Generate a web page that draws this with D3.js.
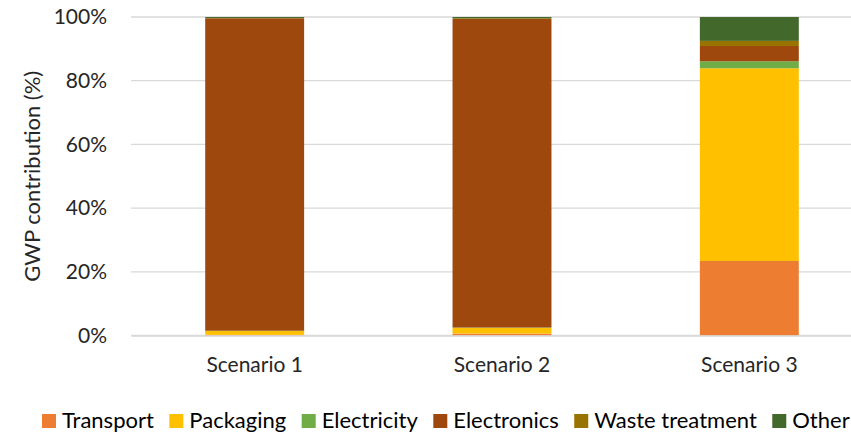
<!DOCTYPE html>
<html>
<head>
<meta charset="utf-8">
<script src="https://cdn.jsdelivr.net/npm/d3@7"></script>
<style>
  html, body { margin: 0; padding: 0; background: #fff; }
  svg { display: block; font-family: Lato, "Open Sans", sans-serif; }
</style>
</head>
<body>
<svg id="chart" width="851" height="433"></svg>
<script>
// Scenario names along the x axis
const scenarios = ["Scenario 1", "Scenario 2", "Scenario 3"];

// Contribution categories, stacked bottom to top
const categories = ["Transport", "Packaging", "Electricity", "Electronics", "Waste treatment", "Other"];
const colors = ["#ED7D31", "#FFC000", "#70AD47", "#9E480E", "#997300", "#43682B"];

// Share of GWP (%) per category, one value per scenario
const transport      = [0.2, 0.6, 23.4];
const packaging      = [1.2, 1.8, 60.5];
const electricity    = [0.1, 0.1, 2.2];
const electronics    = [98.1, 96.9, 4.8];
const wasteTreatment = [0.1, 0.2, 1.6];
const other          = [0.3, 0.4, 7.5];

const yTicks = [0, 20, 40, 60, 80, 100];

const seriesValues = [transport, packaging, electricity, electronics, wasteTreatment, other];
const rows = scenarios.map((s, i) => {
  const r = { scenario: s };
  categories.forEach((c, k) => { r[c] = seriesValues[k][i]; });
  return r;
});

const svg = d3.select("#chart");
const margin = { left: 131, right: 873, top: 17, bottom: 335.5 };
const textColor = "#262626";

const x = d3.scaleBand().domain(scenarios).range([margin.left, margin.right]).paddingInner(0.6).paddingOuter(0.3);
const y = d3.scaleLinear().domain([0, 100]).range([margin.bottom, margin.top]);

// Horizontal gridlines
svg.append("g")
  .selectAll("line")
  .data(yTicks)
  .join("line")
  .attr("x1", margin.left).attr("x2", margin.right)
  .attr("y1", d => y(d)).attr("y2", d => y(d))
  .attr("stroke", "#d9d9d9").attr("stroke-width", 1.3);

// Stacked bars
const stack = d3.stack().keys(categories)(rows);
svg.append("g")
  .selectAll("g")
  .data(stack)
  .join("g")
  .attr("fill", (d, i) => colors[i])
  .selectAll("rect")
  .data(d => d)
  .join("rect")
  .attr("x", d => x(d.data.scenario))
  .attr("width", x.bandwidth())
  .attr("y", d => y(d[1]))
  .attr("height", d => y(d[0]) - y(d[1]));

// Y axis labels
const yAxis = d3.axisLeft(y).tickValues(yTicks).tickFormat(d => d + "%").tickSize(0).tickPadding(24);
const gy = svg.append("g").attr("transform", `translate(${margin.left},0)`).call(yAxis);
gy.select(".domain").remove();
gy.selectAll("text").attr("font-size", 21).attr("fill", textColor).attr("font-family", "Lato, sans-serif");

// X axis labels
const xAxis = d3.axisBottom(x).tickSize(0).tickPadding(22);
const gx = svg.append("g").attr("transform", `translate(0,${margin.bottom})`).call(xAxis);
gx.select(".domain").attr("stroke", "#d9d9d9").attr("stroke-width", 1.3);
gx.selectAll("text").attr("font-size", 21).attr("fill", textColor).attr("font-family", "Lato, sans-serif");

// Y axis title
svg.append("text")
  .attr("transform", `translate(40,${(margin.top + margin.bottom) / 2}) rotate(-90)`)
  .attr("text-anchor", "middle")
  .attr("font-size", 22)
  .attr("fill", textColor)
  .text("GWP contribution (%)");

// Legend
const legend = svg.append("g").attr("transform", "translate(42,414)");
let lx = 0;
categories.forEach((c, i) => {
  const item = legend.append("g").attr("transform", `translate(${lx},0)`);
  item.append("rect").attr("width", 14).attr("height", 14).attr("fill", colors[i]);
  const t = item.append("text")
    .attr("x", 20).attr("y", 14)
    .attr("font-size", 22)
    .attr("fill", "#000")
    .text(c);
  lx += 20 + t.node().getComputedTextLength() + 15.5;
});
</script>
</body>
</html>
